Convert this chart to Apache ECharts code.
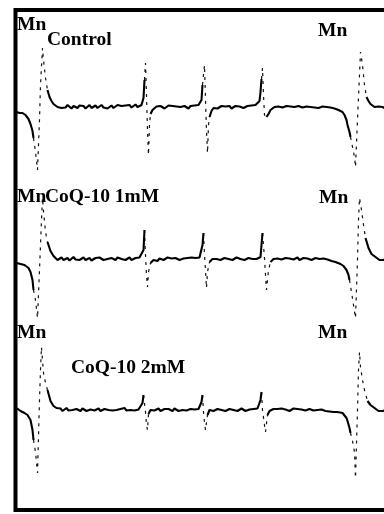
<!DOCTYPE html>
<html>
<head>
<meta charset="utf-8">
<script src="https://cdn.jsdelivr.net/npm/echarts@6/dist/echarts.min.js"></script>
<style>
  html, body { margin: 0; padding: 0; background: #fff; }
  #chart { width: 384px; height: 514px; }
</style>
</head>
<body>
<div id="chart"></div>
<script>
// field position, signal amplitude (relative to each trace's own baseline)
const control = [
  [1, -5], [4, -6], [7, -6], [10, -8], [13, -12], [15, -17], [17, -24], [18, -31],
  [20, -45], [22, -63], [24, -13], [25, 22], [27, 59], [28, 47], [30, 29], [32, 17],
  [34, 10], [36, 6], [38, 3],
  [40, 2], [42, 0], [44, 1.5], [46, -1], [48, 1], [50, -0.5], [52, 2], [54, 0], [56, -1.5], [58, 1],
  [60, 0.5], [62, -1], [64, 1.5], [66, -0.5], [68, 1], [70, -1.5], [72, 0.5], [74, 2], [76, -1], [78, 0],
  [80, 1.5], [82, -1], [84, 0.5], [86, 2], [88, -0.5], [90, 1], [92, -1.5], [94, 0.5], [96, 1.5], [98, -1],
  [100, 0.5], [102, 2], [104, 0], [106, 1], [108, -1], [110, 1.5], [112, 0], [114, 2], [116, -0.5], [118, 1],
  [120, 2.5], [122, 0], [124, 1.5], [126, 2],
  [128, 9], [129, 27], [130, 44], [131, 12], [132, -23], [133, -48], [134, -18], [135, -7], [137, -3], [139, -1],
  [141, 0.5], [143, -1], [145, 1], [147, 0], [149, -1.5], [151, 0.5], [153, 1.5], [155, -0.5], [157, 1], [159, -1],
  [161, 0.5], [163, 2], [165, 0], [167, -1], [169, 1], [171, 0.5], [173, -1.5], [175, 1], [177, 0], [179, 1.5],
  [181, -0.5], [183, 2], [185, 1],
  [186, 7], [187, 22], [189, 42], [190, 7], [191, -23], [192, -46], [193, -18], [194, -10], [196, -4], [198, -1],
  [200, 0.5], [202, -1.5], [204, 0], [206, 1], [208, -1], [210, 0.5], [212, -0.5], [214, 1], [216, -1.5], [218, 0],
  [220, 1], [222, -0.5], [224, 0.5], [226, 1.5], [228, -1], [230, 0], [232, 1], [234, -0.5], [236, 1.5], [238, 0.5],
  [240, 2], [242, 1],
  [244, 6], [245, 15], [246, 28], [247, 39], [248, 12], [249, -8], [251, -10], [253, -7], [255, -3], [257, -1],
  [259, 0], [261, -1], [263, 0.5], [265, 1], [267, -0.5], [269, 0], [271, 1], [273, -1], [275, 0.5], [277, 1.5],
  [279, 0], [281, -1], [283, 1], [285, 0], [287, -0.5], [289, 1], [291, 0.5], [293, -1], [295, 0], [297, 1],
  [299, -0.5], [301, 0.5], [303, -1], [305, 0], [307, 0.5], [309, -1], [311, 0], [313, -1.5], [315, -0.5], [317, -2],
  [319, -1.5], [321, -2.5], [323, -3],
  [325, -4], [327, -5], [329, -8], [331, -13], [332, -18], [334, -25], [335, -30], [337, -40], [339, -50], [340, -60],
  [342, -13], [344, 32], [345, 55], [347, 42], [349, 22], [351, 10], [353, 6], [355, 3], [357, 1],
  [359, 0], [361, -1], [363, 0.5], [365, -1.5], [367, 0], [369, -1], [371, -2]
]
const coq1mM = [
  [1, -4], [5, -5], [9, -6], [13, -9], [15, -13], [17, -21], [18, -31], [20, -41], [22, -59], [24, -11],
  [26, 39], [27, 61], [28, 48], [30, 27], [32, 17], [35, 8], [38, 3],
  [40, 1], [42, -1], [44, 0.5], [46, 1.5], [48, -1], [50, 0], [52, 1], [54, -1.5], [56, 0.5], [58, 2],
  [60, -0.5], [62, 1], [64, -1], [66, 0.5], [68, 1.5], [70, -1], [72, 0], [74, 1], [76, -1.5], [78, 0.5],
  [80, 1], [82, -0.5], [84, 1.5], [86, 0], [88, -1], [90, 1], [92, 0], [94, -1.5], [96, 1], [98, 0.5],
  [100, -1], [102, 1.5], [104, -0.5], [106, 0], [108, 1], [110, -1], [112, 0.5], [114, 1.5], [116, -1], [118, 0],
  [120, 1], [122, -0.5], [124, 1.5], [126, 1],
  [128, 9], [129, 29], [130, 4], [131, -16], [132, -28], [133, -13], [135, -4], [138, -1],
  [140, 0], [142, -2], [144, 0.5], [146, 1], [148, -1], [150, 0], [152, 1.5], [154, -0.5], [156, 0.5], [158, -1.5],
  [160, 1], [162, 0], [164, -1], [166, 1], [168, 0.5], [170, -1], [172, 1], [174, 0], [176, 1.5], [178, -0.5],
  [180, 1], [182, 0.5], [184, 1.5],
  [185, 2], [187, 14], [188, 26], [189, 4], [190, -11], [191, -29], [192, -13], [194, -3], [197, 0],
  [199, -1.5], [201, 0], [203, 1], [205, -1], [207, 0.5], [209, 1], [211, -0.5], [213, 0], [215, 1], [217, -1],
  [219, 0.5], [221, 1.5], [223, -0.5], [225, 0], [227, 1], [229, -1], [231, 0.5], [233, 1], [235, -0.5], [237, 0],
  [239, 1.5], [241, 0], [243, 1],
  [245, 2], [246, 14], [247, 26], [249, 1], [250, -16], [251, -31], [253, -11], [255, -3], [258, 0],
  [260, -1], [262, 0.5], [264, 1], [266, -0.5], [268, 0], [270, 1], [272, -1], [274, 0.5], [276, 1], [278, -0.5],
  [280, 0], [282, 1.5], [284, -1], [286, 0], [288, 1], [290, -0.5], [292, 0.5], [294, 1], [296, -1], [298, 0],
  [300, 1], [302, -0.5], [304, 0], [306, -1], [308, 0.5], [310, -1.5], [312, -0.5], [314, -1], [316, -2], [318, -1.5],
  [320, -3],
  [322, -4], [325, -5], [328, -7], [331, -11], [333, -16], [334, -21], [336, -33], [338, -46], [340, -59],
  [342, -1], [343, 39], [344, 61], [346, 49], [348, 34], [350, 21], [353, 11], [356, 5], [360, 2],
  [362, 0], [364, -1], [366, 0.5], [368, -1], [370, 0]
]
const coq2mM = [
  [1, 2], [5, -1], [9, -3], [12, -5], [15, -10], [17, -20], [18, -30], [20, -42], [22, -63], [24, 10],
  [25, 40], [26, 63], [27, 50], [28, 37], [30, 27], [32, 20], [35, 9], [38, 4], [41, 2],
  [43, 0], [45, 1.5], [47, -1], [49, 0.5], [51, 2], [53, -0.5], [55, 1], [57, 0], [59, -1.5], [61, 1],
  [63, 0.5], [65, -1], [67, 1.5], [69, 0], [71, -1], [73, 1], [75, 0.5], [77, 2], [79, -0.5], [81, 0],
  [83, 1.5], [85, -1], [87, 0.5], [89, 1], [91, -1], [93, 0], [95, 1.5], [97, -0.5], [99, 1], [101, 0],
  [103, -1], [105, 1], [107, 0.5], [109, 2], [111, -0.5], [113, 1], [115, 0], [117, 1.5], [119, -0.5], [121, 1],
  [123, 0.5], [125, 1],
  [127, 7], [128, 15], [130, -2], [131, -15], [132, -20], [133, -4], [135, 0],
  [137, 1], [139, -0.5], [141, 0.5], [143, 1.5], [145, -1], [147, 0], [149, 1], [151, -0.5], [153, 1], [155, 0],
  [157, -1], [159, 1.5], [161, 0.5], [163, -1], [165, 1], [167, 0], [169, 1.5], [171, -0.5], [173, 0.5], [175, 1],
  [177, -1], [179, 0.5], [181, 1.5], [183, 1],
  [185, 3], [186, 8], [187, 15], [188, -2], [189, -12], [190, -20], [192, -5], [194, 0],
  [196, 1], [198, -1], [200, 0.5], [202, 1], [204, -0.5], [206, 0], [208, 1.5], [210, -1], [212, 0.5], [214, 1],
  [216, -0.5], [218, 0], [220, 1], [222, -1], [224, 0.5], [226, 1.5], [228, 0], [230, -1], [232, 1], [234, 0.5],
  [236, -0.5], [238, 1], [240, 0], [242, 1.5],
  [244, 3], [245, 10], [246, 18], [247, 0], [249, -15], [250, -22], [252, -5], [254, -1],
  [256, 0.5], [258, 1], [260, -0.5], [262, 1], [264, 0], [266, 1.5], [268, -0.5], [270, 0.5], [272, 1], [274, -1],
  [276, 0.5], [278, 1.5], [280, 0], [282, 1], [284, -0.5], [286, 0.5], [288, 1], [290, -0.5], [292, 0], [294, 1],
  [296, 0.5], [298, -0.5], [300, 0.5], [302, 0], [304, -1], [306, 0.5], [308, 0], [310, -1], [312, -0.5], [314, -1.5],
  [316, -1], [318, -2], [320, -1.5], [322, -2],
  [324, -1], [327, -3], [329, -5], [331, -8], [332, -11], [334, -18], [335, -23], [337, -31], [339, -42], [340, -68],
  [342, 0], [343, 40], [344, 58], [345, 43], [347, 30], [349, 20], [352, 9], [355, 5], [359, 2],
  [361, 0.5], [363, -1], [365, 0], [367, -1], [369, 0.5], [371, 0]
]

// stretches where the pen swept fast and left only a faint, broken trace
const controlFast = [[18, 32], [129, 135], [187, 194], [246, 251], [335, 351]]
const coq1mMFast = [[18, 32], [129, 135], [188, 194], [247, 255], [334, 350]]
const coq2mMFast = [[18, 32], [128, 133], [187, 192], [246, 252], [335, 352]]

// vertical offset of each trace on the chart
const offsets = { control: 403, coq1mM: 251, coq2mM: 100 }

const GAP = ['-', '-']

function splitTrace(points, ranges, offset) {
  const shifted = points.map(p => [p[0], p[1] + offset])
  const solid = []
  shifted.forEach(p => {
    const inside = ranges.some(r => p[0] > r[0] && p[0] < r[1])
    if (inside) {
      if (solid.length && solid[solid.length - 1] !== GAP) solid.push(GAP)
    } else {
      solid.push(p)
    }
  })
  const fast = []
  ranges.forEach(r => {
    shifted.filter(p => p[0] >= r[0] && p[0] <= r[1]).forEach(p => fast.push(p))
    fast.push(GAP)
  })
  return { solid, fast }
}

const traces = [
  splitTrace(control, controlFast, offsets.control),
  splitTrace(coq1mM, coq1mMFast, offsets.coq1mM),
  splitTrace(coq2mM, coq2mMFast, offsets.coq2mM)
]

const series = []
traces.forEach(t => {
  series.push({
    type: 'line',
    data: t.fast,
    showSymbol: false,
    silent: true,
    z: 2,
    lineStyle: { color: '#111', width: 1.2, type: [3, 5] }
  })
  series.push({
    type: 'line',
    data: t.solid,
    showSymbol: false,
    silent: true,
    z: 3,
    lineStyle: { color: '#000', width: 2.1 }
  })
})

const labels = [
  { text: 'Mn', left: 17, top: 15 },
  { text: 'Control', left: 47, top: 30 },
  { text: 'Mn', left: 318, top: 21 },
  { text: 'Mn', left: 17, top: 187 },
  { text: 'CoQ-10 1mM', left: 45, top: 187 },
  { text: 'Mn', left: 319, top: 188 },
  { text: 'Mn', left: 17, top: 323 },
  { text: 'CoQ-10 2mM', left: 71, top: 358 },
  { text: 'Mn', left: 318, top: 323 }
]

const chart = echarts.init(document.getElementById('chart'))
chart.setOption({
  animation: false,
  title: labels.map(l => ({
    text: l.text,
    left: l.left,
    top: l.top,
    padding: 0,
    textStyle: {
      fontFamily: 'Liberation Serif',
      fontWeight: 'bold',
      fontSize: 19.5,
      color: '#000'
    }
  })),
  grid: {
    show: true,
    left: 15.5,
    top: 10,
    width: 379,
    bottom: 4,
    outerBoundsMode: 'none',
    containLabel: false,
    borderColor: '#000',
    borderWidth: 4
  },
  xAxis: { type: 'value', min: 0, max: 379, show: false },
  yAxis: { type: 'value', min: 0, max: 500, show: false },
  series
})
</script>
</body>
</html>
